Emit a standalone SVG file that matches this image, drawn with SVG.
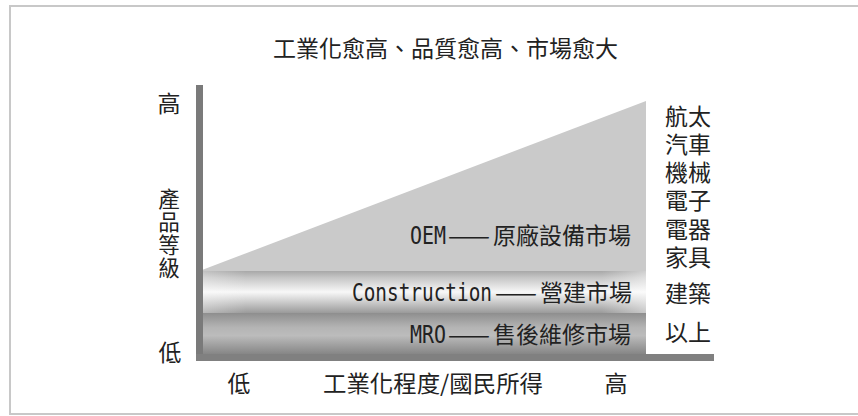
<svg xmlns="http://www.w3.org/2000/svg" width="858" height="416" viewBox="0 0 858 416">
<defs>
<style>
.cjk{font-family:"Noto Sans CJK TC","Noto Sans CJK SC",sans-serif;font-size:23px;fill:#222}
.vt{font-size:21.5px}
.mono{font-family:"DejaVu Sans Mono","Liberation Mono",monospace;font-size:24px;fill:#222}
</style>
<linearGradient id="gCon" x1="0" y1="0" x2="0" y2="1">
<stop offset="0" stop-color="#a8a8a8"/>
<stop offset="0.15" stop-color="#c4c4c4"/>
<stop offset="0.5" stop-color="#f8f8f8"/>
<stop offset="0.8" stop-color="#c0c0c0"/>
<stop offset="1" stop-color="#9a9a9a"/>
</linearGradient>
<linearGradient id="gMro" x1="0" y1="0" x2="0" y2="1">
<stop offset="0" stop-color="#8e8e8e"/>
<stop offset="0.35" stop-color="#b4b4b4"/>
<stop offset="0.55" stop-color="#bcbcbc"/>
<stop offset="1" stop-color="#868686"/>
</linearGradient>
<linearGradient id="gShine" x1="0" y1="0" x2="1" y2="0">
<stop offset="0" stop-color="#fff" stop-opacity="0.3"/>
<stop offset="0.1" stop-color="#fff" stop-opacity="0"/>
<stop offset="0.9" stop-color="#fff" stop-opacity="0"/>
<stop offset="1" stop-color="#fff" stop-opacity="0.45"/>
</linearGradient>
</defs>
<rect x="0" y="0" width="858" height="416" fill="#fff"/>
<rect id="frame" x="10" y="6" width="860" height="408" fill="none" stroke="#c8c8c8" stroke-width="2"/>
<text id="title" class="cjk" x="273" y="57">工業化愈高、品質愈高、市場愈大</text>
<g id="chart">
<polygon id="oem-area" points="202,270 646,101 646,271 202,271" fill="#cacaca"/>
<rect id="con-band" x="202" y="271" width="444" height="42" fill="url(#gCon)"/>
<rect x="202" y="271" width="444" height="42" fill="url(#gShine)"/>
<rect id="mro-band" x="202" y="313" width="444" height="41" fill="url(#gMro)"/>
<rect id="y-axis" x="196" y="85" width="7" height="276" fill="#7a7a7a"/>
<rect id="x-axis" x="196" y="354" width="518" height="7" fill="#808080"/>
</g>
<g id="y-labels" class="cjk" text-anchor="middle">
<text x="169" y="112">高</text>
<text class="vt" x="169" y="207">產</text>
<text class="vt" x="169" y="230">品</text>
<text class="vt" x="169" y="253">等</text>
<text class="vt" x="169" y="276">級</text>
<text x="170" y="361">低</text>
</g>
<g id="x-labels" class="cjk">
<text x="239" y="392" text-anchor="middle">低</text>
<text x="323" y="392" textLength="220" lengthAdjust="spacingAndGlyphs">工業化程度/國民所得</text>
<text x="616" y="392" text-anchor="middle">高</text>
</g>
<g id="oem">
<text y="244"><tspan class="mono" x="410" textLength="36" lengthAdjust="spacingAndGlyphs">OEM</tspan><tspan class="cjk" x="448" textLength="42" lengthAdjust="spacingAndGlyphs">——</tspan><tspan class="cjk" x="493">原廠設備市場</tspan></text>
</g>
<g id="construction">
<text y="301"><tspan class="mono" x="352" textLength="140" lengthAdjust="spacingAndGlyphs">Construction</tspan><tspan class="cjk" x="495" textLength="42" lengthAdjust="spacingAndGlyphs">——</tspan><tspan class="cjk" x="540">營建市場</tspan></text>
</g>
<g id="mro">
<text y="343"><tspan class="mono" x="410" textLength="36" lengthAdjust="spacingAndGlyphs">MRO</tspan><tspan class="cjk" x="448" textLength="42" lengthAdjust="spacingAndGlyphs">——</tspan><tspan class="cjk" x="493">售後維修市場</tspan></text>
</g>
<g id="industries" class="cjk">
<text x="665" y="125">航太</text>
<text x="665" y="153">汽車</text>
<text x="665" y="181">機械</text>
<text x="665" y="209">電子</text>
<text x="665" y="238">電器</text>
<text x="665" y="266">家具</text>
<text x="665" y="302">建築</text>
<text x="665" y="341">以上</text>
</g>
<g id="connectors"></g>
</svg>
